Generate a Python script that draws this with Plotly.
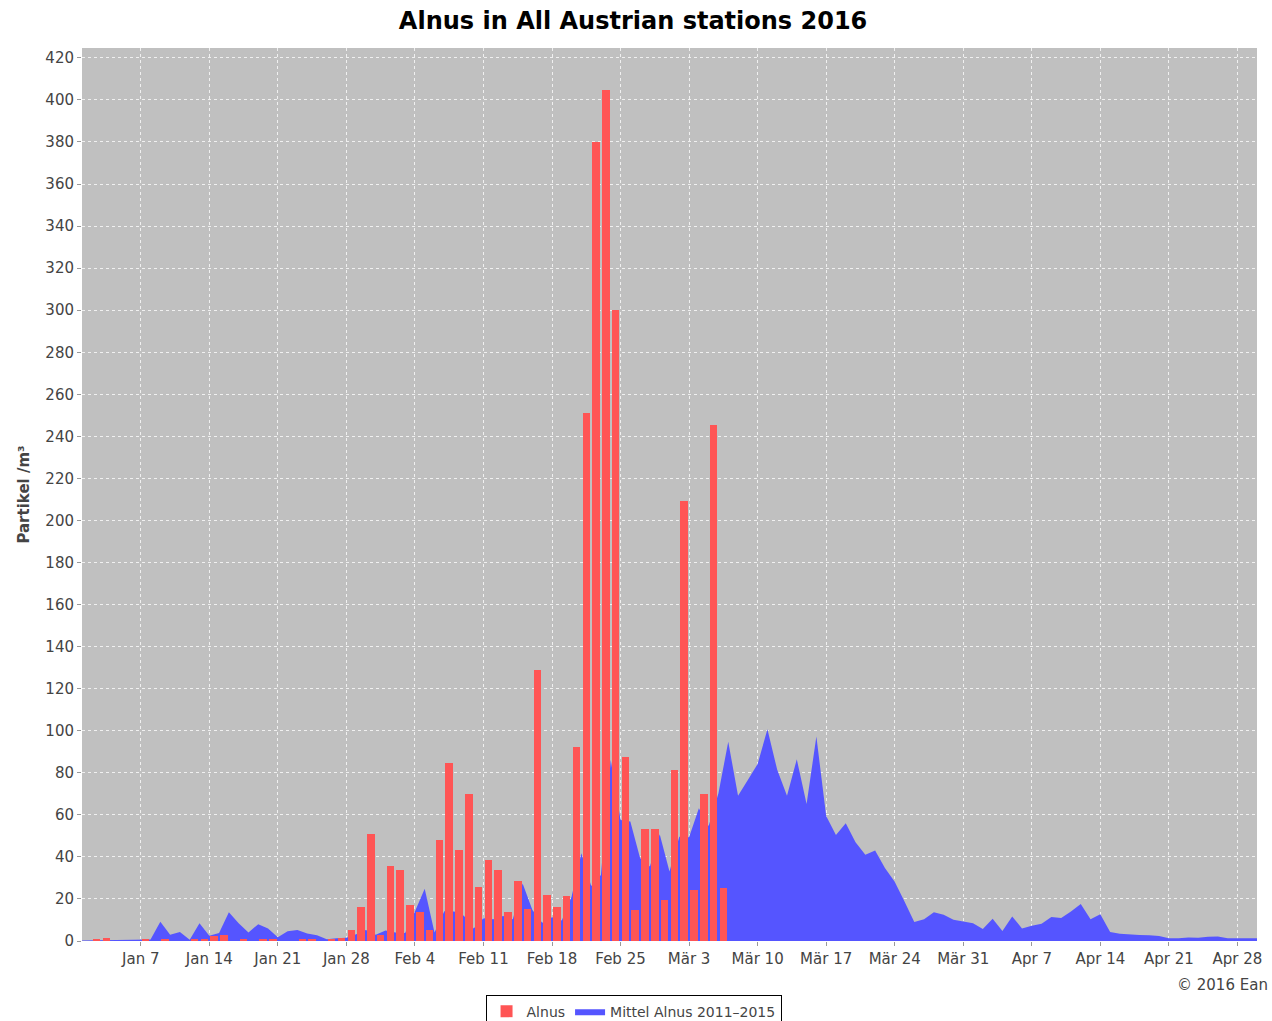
import pandas as pd
from plotly.graph_objects import Figure as plotly_Figure, Bar as plotly_Bar, Scatter as plotly_Scatter

# daily Alnus counts 2016, starting Jan 1 (0 = no bar)
alnus_start = "2016-01-01"
alnus_values = [
    0, 1.0, 1.2, 0, 0, 0, 0.5, 0, 1.0, 0,          # Jan 1-10
    0, 1.0, 1.0, 2.2, 2.8, 0, 0.5, 0, 0.5, 0.5,    # Jan 11-20
    0, 0, 0.5, 1.0, 0, 0.8, 1.6, 5.4, 16.4, 51,    # Jan 21-30
    2.7, 35.5, 33.8, 16.9, 14, 5, 48, 84.5, 43.5, 69.8,  # Jan 31 - Feb 9
    25.6, 38.7, 33.6, 13.8, 28.7, 15.4, 128.8, 21.9, 16.4, 21.4,  # Feb 10-19
    92.1, 251, 380, 404.5, 300, 87.7, 14.8, 53.4, 53.1, 19.5,  # Feb 20-29
    81.2, 209.3, 24.1, 70, 245.6, 25.4,  # Mar 1-6
]

# daily mean 2011-2015, starting Jan 1
mittel_start = "2016-01-01"
mittel_values = [
    0.2, 0.3, 0.3, 0.3, 0.4, 0.6, 0.8, 0.7, 9.2, 3.0,
    4.3, 0.6, 8.4, 2.5, 3.8, 13.7, 8.4, 4.1, 8.0, 6.0,
    1.8, 4.6, 5.2, 3.6, 2.7, 0.8, 1.3, 1.5, 3.2, 5.2,
    3.0, 5.0, 4.1, 3.8, 14.0, 24.8, 4.1, 14.2, 14.0, 12.0,
    6.0, 10.8, 10.3, 11.9, 10.3, 27.4, 14.7, 8.7, 11.3, 9.7,
    21.1, 41.7, 26.2, 31.4, 86.1, 57.6, 56.8, 39.3, 35.4, 50.8,
    33.0, 49.6, 49.3, 63.1, 54.7, 70.3, 94.8, 69.1, 76.6, 84.2,
    100.7, 81.4, 69.1, 86.4, 65.2, 97.2, 59.5, 50.4, 56.0, 47.0,
    41.0, 43.0, 34.7, 28.2, 18.8, 9.0, 10.4, 13.7, 12.5, 10.1,
    9.3, 8.4, 5.7, 10.6, 4.8, 11.7, 6.0, 7.3, 8.2, 11.4,
    10.9, 14.0, 17.6, 10.4, 12.7, 4.3, 3.5, 3.0, 2.8, 2.7,
    2.4, 1.3, 1.3, 1.7, 1.5, 2.0, 2.1, 1.3, 1.2, 1.3,
    1.3,
]

tick_dates = [
    "2016-01-07", "2016-01-14", "2016-01-21", "2016-01-28", "2016-02-04",
    "2016-02-11", "2016-02-18", "2016-02-25", "2016-03-03", "2016-03-10",
    "2016-03-17", "2016-03-24", "2016-03-31", "2016-04-07", "2016-04-14",
    "2016-04-21", "2016-04-28",
]
tick_labels = [
    "Jan 7", "Jan 14", "Jan 21", "Jan 28", "Feb 4", "Feb 11", "Feb 18",
    "Feb 25", "Mär 3", "Mär 10", "Mär 17", "Mär 24", "Mär 31", "Apr 7",
    "Apr 14", "Apr 21", "Apr 28",
]

alnus_dates = pd.date_range(alnus_start, periods=len(alnus_values), freq="D")
mittel_dates = pd.date_range(mittel_start, periods=len(mittel_values), freq="D")

DAY_MS = 86400000
tick_font = dict(family="DejaVu Sans", size=15, color="#444444")

fig = plotly_Figure()
fig.add_trace(
    plotly_Scatter(
        x=mittel_dates,
        y=mittel_values,
        name="Mittel Alnus 2011–2015",
        mode="lines",
        line=dict(width=0, color="#5555ff"),
        fill="tozeroy",
        fillcolor="#5555ff",
        zorder=0,
    )
)
fig.add_trace(
    plotly_Bar(
        x=alnus_dates,
        y=alnus_values,
        name="Alnus",
        xperiod=DAY_MS,
        xperiodalignment="middle",
        width=0.77 * DAY_MS,
        marker=dict(color="#ff5555", line=dict(width=0)),
        zorder=1,
    )
)

fig.update_xaxes(
    range=["2016-01-01", "2016-04-30"],
    tickvals=tick_dates,
    ticktext=tick_labels,
    tickfont=tick_font,
    showgrid=True,
    gridcolor="#f0f0f0",
    griddash="3px,3px",
    gridwidth=1,
    ticks="outside",
    ticklen=4,
    tickcolor="#999999",
    showline=True,
    mirror=True,
    linecolor="#808080",
    linewidth=1,
    zeroline=False,
)
fig.update_yaxes(
    range=[0, 424.7],
    dtick=20,
    tickfont=tick_font,
    showgrid=True,
    gridcolor="#f0f0f0",
    griddash="3px,3px",
    gridwidth=1,
    ticks="outside",
    ticklen=4,
    tickcolor="#999999",
    showline=True,
    mirror=True,
    linecolor="#808080",
    linewidth=1,
    zeroline=False,
    title=dict(
        text="<b>Partikel /m³</b>",
        font=dict(family="DejaVu Sans", size=15, color="#444444"),
        standoff=12,
    ),
)

fig.update_layout(
    width=1272,
    height=1021,
    margin=dict(l=82, r=15, t=48, b=80, autoexpand=False),
    paper_bgcolor="white",
    plot_bgcolor="#c0c0c0",
    bargap=0,
    title=dict(
        text="<b>Alnus in All Austrian stations 2016</b>",
        font=dict(family="DejaVu Sans", size=24, color="black"),
        x=0.469,
        xref="paper",
        xanchor="center",
        y=1 - 21 / 1021,
        yanchor="middle",
    ),
    legend=dict(
        orientation="h",
        x=0.4694,
        xanchor="center",
        y=-0.0600,
        yanchor="top",
        bordercolor="black",
        borderwidth=1,
        bgcolor="white",
        font=dict(family="DejaVu Sans", size=14, color="#444444"),
        traceorder="reversed",
        itemwidth=30,
    ),
    annotations=[
        dict(
            text="© 2016 Ean",
            xref="paper",
            yref="paper",
            x=1.011,
            y=-0.0493,
            xanchor="right",
            yanchor="middle",
            showarrow=False,
            font=dict(family="DejaVu Sans", size=15, color="#444444"),
        )
    ],
)

# drop the default page margin so the figure fills the window exactly
fig.write_html(
    "out.html",
    config={"displayModeBar": False},
    post_script="document.body.style.margin='0';document.body.style.overflow='hidden';",
)
